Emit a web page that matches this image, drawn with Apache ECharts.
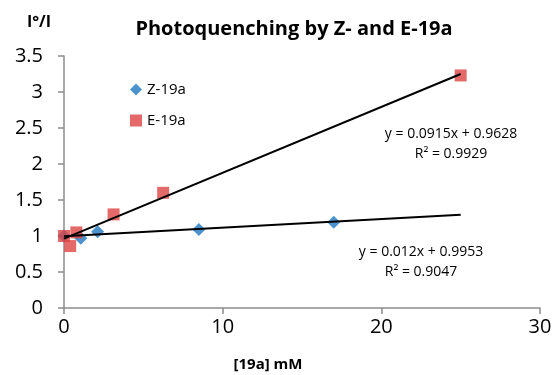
<!DOCTYPE html>
<html><head><meta charset="utf-8">
<script src="https://cdn.jsdelivr.net/npm/echarts@6/dist/echarts.min.js"></script>
<style>html,body{margin:0;padding:0;background:#fff}#c{width:555px;height:375px}</style>
</head><body><div id="c"></div>
<script>
var zX = [0, 1.06, 2.12, 8.5, 17];
var zY = [1.0, 0.97, 1.06, 1.09, 1.19];
var eX = [0, 0.39, 0.78, 3.125, 6.25, 25];
var eY = [1.0, 0.86, 1.05, 1.30, 1.60, 3.23];
var trendZ = [[0, 0.9953], [25, 1.2953]];
var trendE = [[0, 0.9628], [25, 3.2503]];
var eqZ = ['y = 0.012x + 0.9953', 'R² = 0.9047'];
var eqE = ['y = 0.0915x + 0.9628', 'R² = 0.9929'];

var font = '"Open Sans", "Noto Sans", sans-serif';
function pairs(xs, ys){ return xs.map(function(x,i){return [x, ys[i]];}); }
var chart = echarts.init(document.getElementById('c'), null, {renderer:'canvas'});
chart.setOption({
  animation:false,
  textStyle:{fontFamily:font},
  title:{text:'Photoquenching by Z- and E-19a', left:289, top:14, textAlign:'center',
    textStyle:{fontFamily:font, fontWeight:'bold', fontSize:20, color:'#000'}},
  legend:{left:125, top:77, orient:'vertical', itemGap:16, itemWidth:12, itemHeight:12,
    textStyle:{fontFamily:font, fontSize:15, color:'#000'},
    data:[{name:'Z-19a', icon:'diamond'},{name:'E-19a', icon:'rect'}]},
  grid:{left:64, right:15, top:56, bottom:67, containLabel:false},
  xAxis:{type:'value', min:0, max:30, interval:10,
    axisLine:{show:true, lineStyle:{color:'#8c8c8c', width:1.5}},
    axisTick:{show:true, inside:false, length:6, lineStyle:{color:'#8c8c8c', width:1.5}},
    axisLabel:{fontFamily:font, fontSize:20, color:'#000', margin:9},
    splitLine:{show:false}},
  yAxis:{type:'value', min:0, max:3.5, interval:0.5,
    axisLine:{show:true, lineStyle:{color:'#8c8c8c', width:1.5}},
    axisTick:{show:true, inside:false, length:6, lineStyle:{color:'#8c8c8c', width:1.5}},
    axisLabel:{fontFamily:font, fontSize:20, color:'#000', margin:21},
    splitLine:{show:false}},
  series:[
    {name:'trendE', type:'line', data:trendE, symbol:'none', lineStyle:{color:'#000', width:2}, z:3, silent:true},
    {name:'trendZ', type:'line', data:trendZ, symbol:'none', lineStyle:{color:'#000', width:2}, z:3, silent:true},
    {name:'Z-19a', type:'scatter', data:pairs(zX,zY), symbol:'diamond', symbolSize:13, itemStyle:{color:'#1f78c1'}, z:2},
    {name:'E-19a', type:'scatter', data:pairs(eX,eY), symbol:'rect', symbolSize:12, itemStyle:{color:'#dd4444'}, z:2}
  ],
  graphic:[
    {type:'text', style:{text:eqE[0]+'\n'+eqE[1], x:451, y:124, textAlign:'center', font:'14px '+font, fill:'#000', lineHeight:20}},
    {type:'text', style:{text:eqZ[0]+'\n'+eqZ[1], x:421, y:242, textAlign:'center', font:'14px '+font, fill:'#000', lineHeight:20}},
    {type:'text', style:{text:'I°/I', x:39, y:22, textAlign:'center', textVerticalAlign:'middle', font:'bold 16px '+font, fill:'#000'}},
    {type:'text', style:{text:'[19a] mM', x:268, y:365, textAlign:'center', textVerticalAlign:'middle', font:'bold 15px '+font, fill:'#000'}}
  ]
});
</script></body></html>
